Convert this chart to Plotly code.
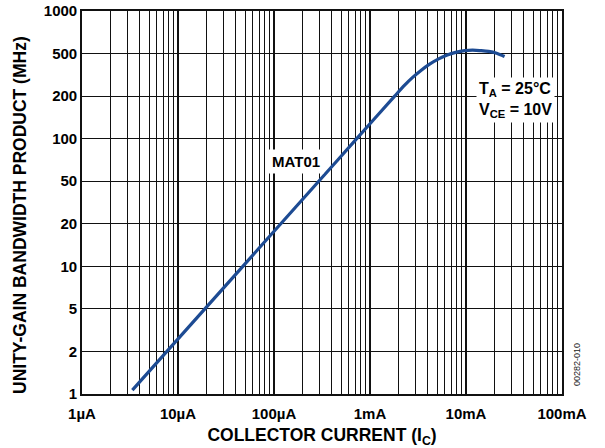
import numpy as np
import plotly.graph_objects as go

# --- data ---
collector_current_A = [3.346e-6, 7.664e-6, 1.905e-5, 4.735e-5, 1.177e-4, 2.926e-4,
                       7.273e-4, 1.807e-3, 2.297e-3, 2.781e-3, 3.370e-3, 4.180e-3,
                       5.186e-3, 6.282e-3, 7.794e-3, 9.670e-3, 1.171e-2, 1.418e-2,
                       1.719e-2, 2.082e-2, 2.522e-2]
ft_MHz = [1.065, 2, 5, 10, 20, 50, 100, 200, 253, 299, 346, 398,
          446, 482, 510, 524.5, 528.5, 524.5, 518, 503, 469]

x_tick_vals = [1e-6, 1e-5, 1e-4, 1e-3, 1e-2, 1e-1]
x_tick_text = ["1µA", "10µA", "100µA", "1mA", "10mA", "100mA"]
y_levels = [1, 2, 5, 10, 20, 50, 100, 200, 500, 1000]
y_tick_text = ["1", "2", "5", "10", "20", "50", "100", "200", "500", "1000"]

# The y axis of the reference is a 1-2-5 scale with equal spacing per step.
def y_scale(v):
    return np.interp(np.log10(v), np.log10(y_levels), np.arange(len(y_levels)))

FONT = "Arial, Liberation Sans, sans-serif"
BLUE = "#1d4b93"
GRID = "#111"

minor_x = [m * 10.0 ** d for d in range(-6, -1) for m in range(2, 10)]

fig = go.Figure()
fig.add_trace(go.Scatter(
    x=collector_current_A, y=y_scale(ft_MHz), mode="lines",
    line=dict(color=BLUE, width=3.2, shape="spline", smoothing=0.8),
    showlegend=False, hoverinfo="skip"))

fig.update_layout(
    width=605, height=448,
    margin=dict(l=82, r=43, t=11, b=54),
    paper_bgcolor="white", plot_bgcolor="white",
    font=dict(family=FONT, color="black"),
    xaxis=dict(
        type="log", range=[-6, -1], automargin=False,
        tickmode="array", tickvals=x_tick_vals, ticktext=x_tick_text,
        tickfont=dict(size=15, weight="bold", family=FONT),
        ticks="", ticklabelstandoff=5,
        showgrid=True, gridcolor=GRID, gridwidth=1.6,
        minor=dict(tickmode="array", tickvals=minor_x, showgrid=True,
                   gridcolor=GRID, gridwidth=1, ticks=""),
        showline=True, linecolor=GRID, linewidth=1.6, mirror=True,
        zeroline=False,
        title=dict(text="COLLECTOR CURRENT (I<sub>C</sub>)",
                   font=dict(size=17.5, weight="bold", family=FONT), standoff=8),
    ),
    yaxis=dict(
        type="linear", range=[0, 9], automargin=False,
        tickmode="array", tickvals=list(range(10)), ticktext=y_tick_text,
        tickfont=dict(size=15, weight="bold", family=FONT),
        ticks="", ticklabelstandoff=0,
        showgrid=True, gridcolor=GRID, gridwidth=1.2,
        showline=True, linecolor=GRID, linewidth=1.6, mirror=True,
        zeroline=False,
    ),
)

# y axis title placed as rotated text
fig.add_annotation(
    x=(20 - 82) / 480, y=(394 - 215) / 383, xref="paper", yref="paper",
    xanchor="center", yanchor="middle", textangle=-90, showarrow=False,
    text="<b>UNITY-GAIN BANDWIDTH PRODUCT (MHz)</b>",
    font=dict(size=17.5, family=FONT, color="black"))

fig.add_annotation(
    x=np.log10(1.7e-4), y=y_scale(69), xref="x", yref="y",
    text="<b>MAT01</b>", showarrow=False, bgcolor="white", borderpad=3,
    font=dict(size=15, family=FONT, color="black"))

fig.add_annotation(
    x=np.log10(1.27e-2), y=y_scale(188), xref="x", yref="y",
    xanchor="left", align="left",
    text="<b>T<sub>A</sub> = 25°C<br>V<sub>CE</sub> = 10V</b>",
    showarrow=False, bgcolor="white", borderpad=2,
    font=dict(size=16, family=FONT, color="black"))

fig.add_annotation(
    x=(577 - 82) / 480, y=(394 - 365) / 383, xref="paper", yref="paper",
    xanchor="center", yanchor="middle",
    text="00282-010", showarrow=False, textangle=-90,
    font=dict(size=9, family=FONT, color="#222"))

fig.write_html("out.html", config={"displayModeBar": False},
               post_script="document.body.style.margin='0';")
